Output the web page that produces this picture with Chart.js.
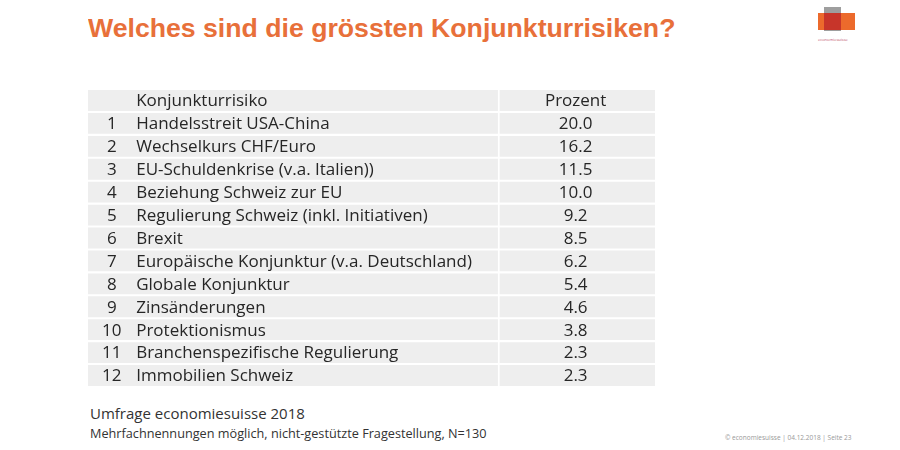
<!DOCTYPE html>
<html>
<head>
<meta charset="utf-8">
<script src="https://cdn.jsdelivr.net/npm/chart.js@4"></script>
<style>
  body { margin: 0; background: #fff; }
  #page { position: relative; width: 900px; height: 450px; overflow: hidden; font-family: 'Open Sans', sans-serif; }
  #title { position: absolute; left: 88px; top: 13px; font: bold 26px 'Liberation Sans', Arial, sans-serif; color: #e8703a; white-space: nowrap; transform: scaleX(1.025); transform-origin: left; }
  #table-wrap { position: absolute; left: 88px; top: 89px; width: 567px; height: 298px; }
  #source { position: absolute; left: 90px; top: 403px; font-size: 15px; color: #333; white-space: nowrap; }
  #note { position: absolute; left: 90px; top: 424px; font-size: 12.7px; color: #333; white-space: nowrap; }
  #copy { position: absolute; left: 725px; top: 433px; font-size: 6.5px; color: #999; white-space: nowrap; }
  .logo { position: absolute; }
</style>
</head>
<body>
<div id="page">
  <div id="title">Welches sind die grössten Konjunkturrisiken?</div>
  <div class="logo" style="left:824px;top:7px;width:17px;height:24px;background:#9e9e9e;"></div>
  <div class="logo" style="left:818px;top:13px;width:37px;height:17px;background:#ec6a2c;"></div>
  <div class="logo" style="left:824px;top:13px;width:17px;height:17px;background:#c7352a;"></div>
  <div class="logo" style="left:818px;top:37px;font-size:4px;color:#c0506a;">economiesuisse</div>
  <div id="table-wrap"><canvas id="risk-table"></canvas></div>
  <div id="source">Umfrage economiesuisse 2018</div>
  <div id="note">Mehrfachnennungen möglich, nicht-gestützte Fragestellung, N=130</div>
  <div id="copy">© economiesuisse | 04.12.2018 | Seite 23</div>
</div>
<script>
// Table data
const HEADERS = ['Konjunkturrisiko', 'Prozent'];
const RANKS = ['1', '2', '3', '4', '5', '6', '7', '8', '9', '10', '11', '12'];
const RISKS = [
    'Handelsstreit USA-China',
    'Wechselkurs CHF/Euro',
    'EU-Schuldenkrise (v.a. Italien))',
    'Beziehung Schweiz zur EU',
    'Regulierung Schweiz (inkl. Initiativen)',
    'Brexit',
    'Europäische Konjunktur (v.a. Deutschland)',
    'Globale Konjunktur',
    'Zinsänderungen',
    'Protektionismus',
    'Branchenspezifische Regulierung',
    'Immobilien Schweiz'
];
const PERCENT = [20.0, 16.2, 11.5, 10.0, 9.2, 8.5, 6.2, 5.4, 4.6, 3.8, 2.3, 2.3];

// column layout (in x-scale units 0..100)
const LEFT_COL = [0, 72.3];
const RIGHT_COL = [72.6, 100];
const RANK_X = 4.2;
const TEXT_X = 8.5;
const VALUE_X = 86.0;

const rowLabels = [HEADERS[0]].concat(RISKS);

const textPlugin = {
    id: 'cellText',
    afterDatasetsDraw(chart) {
        const ctx = chart.ctx;
        const x = chart.scales.x;
        const y = chart.scales.y;
        ctx.save();
        ctx.font = '17px "Open Sans", sans-serif';
        ctx.fillStyle = '#262626';
        ctx.textBaseline = 'middle';
        rowLabels.forEach((label, i) => {
            const py = y.getPixelForValue(i) + 1;
            if (i === 0) {
                ctx.textAlign = 'left';
                ctx.fillText(HEADERS[0], x.getPixelForValue(TEXT_X), py);
                ctx.textAlign = 'center';
                ctx.fillText(HEADERS[1], x.getPixelForValue(VALUE_X), py);
                return;
            }
            ctx.textAlign = 'center';
            ctx.fillText(RANKS[i - 1], x.getPixelForValue(RANK_X), py);
            ctx.textAlign = 'left';
            ctx.fillText(label, x.getPixelForValue(TEXT_X), py);
            ctx.textAlign = 'center';
            ctx.fillText(PERCENT[i - 1].toFixed(1), x.getPixelForValue(VALUE_X), py);
        });
        ctx.restore();
    }
};

new Chart(document.getElementById('risk-table'), {
    type: 'bar',
    data: {
        labels: rowLabels,
        datasets: [
            {
                data: rowLabels.map(() => LEFT_COL),
                backgroundColor: '#eeeeee'
            },
            {
                data: rowLabels.map(() => RIGHT_COL),
                backgroundColor: '#eeeeee'
            }
        ]
    },
    options: {
        indexAxis: 'y',
        responsive: true,
        maintainAspectRatio: false,
        animation: false,
        layout: { padding: 0 },
        datasets: {
            bar: {
                grouped: false,
                categoryPercentage: 1,
                barPercentage: 0.91
            }
        },
        plugins: {
            legend: { display: false },
            tooltip: { enabled: false }
        },
        scales: {
            x: { type: 'linear', min: 0, max: 100, display: false },
            y: { display: false }
        }
    },
    plugins: [textPlugin]
});
</script>
</body>
</html>
